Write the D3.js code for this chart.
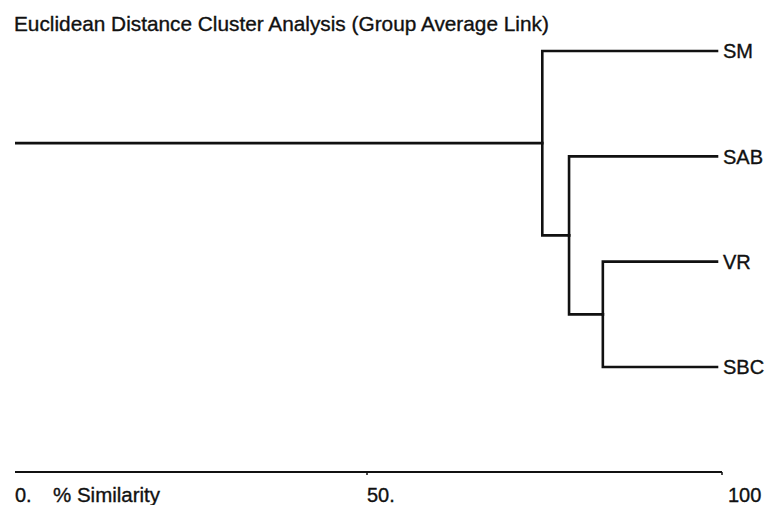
<!DOCTYPE html>
<html>
<head>
<meta charset="utf-8">
<script src="https://cdn.jsdelivr.net/npm/d3@7"></script>
<style>
  html, body { margin: 0; padding: 0; background: #fff; }
  svg { display: block; }
  text { font-family: "Liberation Sans", Arial, Helvetica, sans-serif; fill: #111; stroke: #111; stroke-width: 0.35px; }
</style>
</head>
<body>
<svg id="chart" width="772" height="505"></svg>
<script>
// Leaves, listed top to bottom
const leafNames = ["SM", "SAB", "VR", "SBC"];
// Successive joins: each pair is two leaf names or the index of an earlier join
const mergePairs = [["VR", "SBC"], ["SAB", 0], ["SM", 1]];
// % similarity at which each join happens
const mergeSimilarity = [83.5, 78.7, 74.9];
// Similarity of the leaves themselves
const leafSimilarity = 100;
// Axis tick labels
const tickValues = [0, 50, 100];
const tickLabels = ["0.", "50.", "100"];
const axisTitle = "% Similarity";
const titleText = "Euclidean Distance Cluster Analysis (Group Average Link)";

const svg = d3.select("#chart");
const ink = "#111";

const x = d3.scaleLinear().domain([0, 100]).range([15, 719]);
const yTop = 51, yBottom = 367;

// Build the tree from the join list
function makeNode(ref) {
  if (typeof ref === "string") return { name: ref, sim: leafSimilarity };
  const [a, b] = mergePairs[ref];
  return { name: "join" + ref, sim: mergeSimilarity[ref], children: [makeNode(a), makeNode(b)] };
}
const rootData = makeNode(mergePairs.length - 1);
const root = d3.hierarchy(rootData);

// d3.cluster pads half a slot on each end, so size it by whole slots
const slot = (yBottom - yTop) / (leafNames.length - 1);
d3.cluster().size([slot * leafNames.length, 1]).separation(() => 1)(root);
const yOffset = yTop - slot / 2;

const pos = d => ({ px: x(d.data.sim), py: yOffset + d.x });

const g = svg.append("g");

// Elbow links: vertical at parent's similarity, horizontal out to child
g.selectAll("path.link")
  .data(root.links())
  .join("path")
  .attr("class", "link")
  .attr("fill", "none")
  .attr("stroke", ink)
  .attr("stroke-width", 2.6)
  .attr("stroke-linecap", "square")
  .attr("d", l => {
    const s = pos(l.source), t = pos(l.target);
    return `M${s.px},${s.py}V${t.py}H${t.px - (l.target.children ? 0 : 2)}`;
  });

// Stem from zero similarity to the root join
const r = pos(root);
g.append("path")
  .attr("fill", "none")
  .attr("stroke", ink)
  .attr("stroke-width", 2.6)
  .attr("d", `M${x(0)},${r.py}H${r.px}`);

// Leaf labels
g.selectAll("text.leaf")
  .data(root.leaves())
  .join("text")
  .attr("class", "leaf")
  .attr("x", d => pos(d).px + 4)
  .attr("y", d => pos(d).py)
  .attr("dy", "0.36em")
  .attr("font-size", 20)
  .text(d => d.data.name);

// Title
svg.append("text")
  .attr("x", 14)
  .attr("y", 31)
  .attr("font-size", 20.8)
  .text(titleText);

// Similarity axis
const axisY = 472;
const ax = svg.append("g");
ax.append("line")
  .attr("x1", x(0)).attr("x2", x(100) + 3)
  .attr("y1", axisY).attr("y2", axisY)
  .attr("stroke", ink).attr("stroke-width", 2);
ax.selectAll("line.tick")
  .data(tickValues.slice(1))
  .join("line")
  .attr("class", "tick")
  .attr("x1", d => x(d) + (d === 100 ? 3 : 0)).attr("x2", d => x(d) + (d === 100 ? 3 : 0))
  .attr("y1", axisY).attr("y2", axisY + 3)
  .attr("stroke", ink).attr("stroke-width", 1.5);
ax.selectAll("text.ticklab")
  .data(tickValues)
  .join("text")
  .attr("class", "ticklab")
  .attr("x", (d, i) => x(d) + (d === 100 ? 9 : 0))
  .attr("y", 502)
  .attr("font-size", 20)
  .text((d, i) => tickLabels[i]);
ax.append("text")
  .attr("x", 53)
  .attr("y", 502)
  .attr("font-size", 20.5)
  .text(axisTitle);
</script>
</body>
</html>
